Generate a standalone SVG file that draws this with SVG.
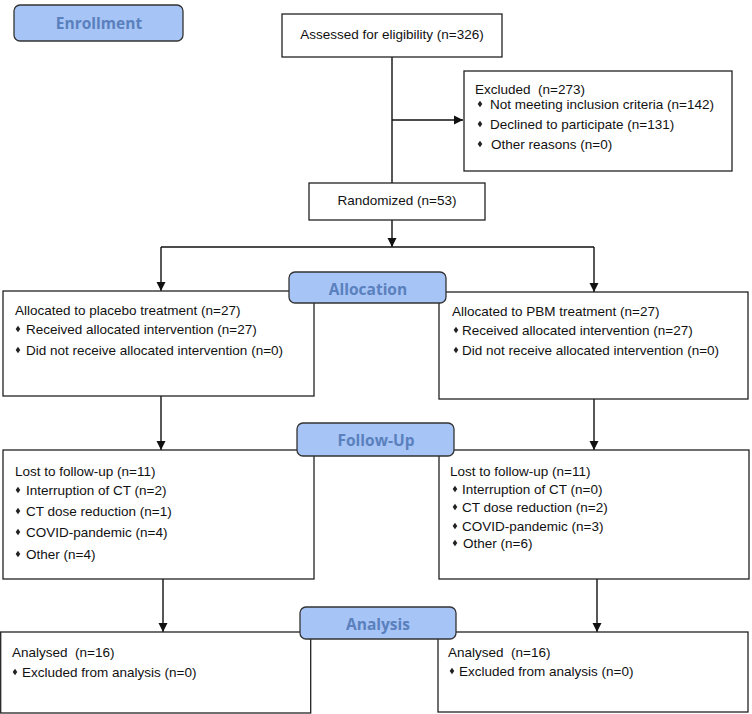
<svg xmlns="http://www.w3.org/2000/svg" width="752" height="714" viewBox="0 0 752 714">
<style>
.box{fill:#fff;stroke:#222;stroke-width:1.3}
.lab{fill:#a6c4f5;stroke:#333;stroke-width:1.3}
.t{font-family:"Liberation Sans",Arial,sans-serif;font-size:13.5px;fill:#111}
.lt{font-family:"Open Sans","Noto Sans",sans-serif;font-weight:bold;font-size:15.5px;fill:#5a80bd;text-anchor:middle}
.c{stroke:#111;stroke-width:1.4;fill:none}
.ca{stroke:#111;stroke-width:1.4;fill:none;marker-end:url(#ah)}
.b{fill:#222}
</style>
<defs>
<marker id="ah" markerUnits="userSpaceOnUse" markerWidth="9" markerHeight="10" refX="9" refY="5" orient="auto">
<path d="M0,0.5 L9,5 L0,9.5 z" fill="#111"/>
</marker>
<path id="d" d="M0,-3.2 L2.3,0 L0,3.2 L-2.3,0 z"/>
</defs>
<rect width="752" height="714" fill="#fff"/>
<g id="connectors">
<path class="c" d="M392,57 V183"/>
<path class="ca" d="M392,120 H463"/>
<path class="ca" d="M392,220 V247"/>
<path class="c" d="M161,247 H594"/>
<path class="ca" d="M161,247 V291"/>
<path class="ca" d="M594,247 V292"/>
<path class="ca" d="M161,396 V450"/>
<path class="ca" d="M594,399 V450"/>
<path class="ca" d="M163,579 V632"/>
<path class="ca" d="M597,579 V632"/>
</g>
<g id="assessed">
<rect class="box" x="282" y="14" width="220" height="43"/>
<text class="t" x="392" y="39" text-anchor="middle">Assessed for eligibility (n=326)</text>
</g>
<g id="excluded">
<rect class="box" x="464" y="71" width="268" height="100"/>
<text class="t" x="475" y="94">Excluded&#160; (n=273)</text>
<use href="#d" class="b" x="480" y="104"/>
<text class="t" x="490" y="109">Not meeting inclusion criteria (n=142)</text>
<use href="#d" class="b" x="480" y="124"/>
<text class="t" x="490" y="129">Declined to participate (n=131)</text>
<use href="#d" class="b" x="480" y="144"/>
<text class="t" x="491" y="149">Other reasons (n=0)</text>
</g>
<g id="randomized">
<rect class="box" x="309" y="183" width="176" height="37"/>
<text class="t" x="397" y="205" text-anchor="middle">Randomized (n=53)</text>
</g>
<g id="alloc-left">
<rect class="box" x="3" y="291" width="311" height="105"/>
<text class="t" x="15" y="315">Allocated to placebo treatment (n=27)</text>
<use href="#d" class="b" x="18" y="329"/>
<text class="t" x="26" y="334">Received allocated intervention (n=27)</text>
<use href="#d" class="b" x="18" y="350"/>
<text class="t" x="26" y="355">Did not receive allocated intervention (n=0)</text>
</g>
<g id="alloc-right">
<rect class="box" x="439" y="292" width="309" height="107"/>
<text class="t" x="452" y="316">Allocated to PBM treatment (n=27)</text>
<use href="#d" class="b" x="456" y="330"/>
<text class="t" x="462" y="335">Received allocated intervention (n=27)</text>
<use href="#d" class="b" x="456" y="350"/>
<text class="t" x="462" y="355">Did not receive allocated intervention (n=0)</text>
</g>
<g id="follow-left">
<rect class="box" x="3" y="450" width="311" height="129"/>
<text class="t" x="15" y="476">Lost to follow-up (n=11)</text>
<use href="#d" class="b" x="18" y="490"/>
<text class="t" x="26" y="495">Interruption of CT (n=2)</text>
<use href="#d" class="b" x="18" y="511"/>
<text class="t" x="26" y="516">CT dose reduction (n=1)</text>
<use href="#d" class="b" x="18" y="532"/>
<text class="t" x="26" y="537">COVID-pandemic (n=4)</text>
<use href="#d" class="b" x="18" y="554"/>
<text class="t" x="26" y="559">Other (n=4)</text>
</g>
<g id="follow-right">
<rect class="box" x="439" y="450" width="310" height="129"/>
<text class="t" x="450" y="476">Lost to follow-up (n=11)</text>
<use href="#d" class="b" x="455" y="489"/>
<text class="t" x="462" y="494">Interruption of CT (n=0)</text>
<use href="#d" class="b" x="455" y="507"/>
<text class="t" x="462" y="512">CT dose reduction (n=2)</text>
<use href="#d" class="b" x="455" y="526"/>
<text class="t" x="462" y="531">COVID-pandemic (n=3)</text>
<use href="#d" class="b" x="455" y="543"/>
<text class="t" x="463" y="548">Other (n=6)</text>
</g>
<g id="analysis-left">
<rect class="box" x="0.7" y="632" width="310" height="81"/>
<text class="t" x="12" y="657">Analysed&#160; (n=16)</text>
<use href="#d" class="b" x="15" y="672"/>
<text class="t" x="22" y="677">Excluded from analysis (n=0)</text>
</g>
<g id="analysis-right">
<rect class="box" x="438" y="632" width="310" height="80"/>
<text class="t" x="448" y="657">Analysed&#160; (n=16)</text>
<use href="#d" class="b" x="452" y="671"/>
<text class="t" x="459" y="676">Excluded from analysis (n=0)</text>
</g>
<g id="label-enrollment">
<rect class="lab" x="14" y="5" width="169" height="36" rx="6"/>
<text class="lt" x="99" y="29">Enrollment</text>
</g>
<g id="label-allocation">
<rect class="lab" x="289" y="272" width="157" height="31" rx="6"/>
<text class="lt" x="368" y="295">Allocation</text>
</g>
<g id="label-followup">
<rect class="lab" x="297" y="423" width="157" height="33" rx="6"/>
<text class="lt" x="376" y="446">Follow-Up</text>
</g>
<g id="label-analysis">
<rect class="lab" x="300" y="607" width="156" height="32" rx="6"/>
<text class="lt" x="378" y="630">Analysis</text>
</g>
</svg>
